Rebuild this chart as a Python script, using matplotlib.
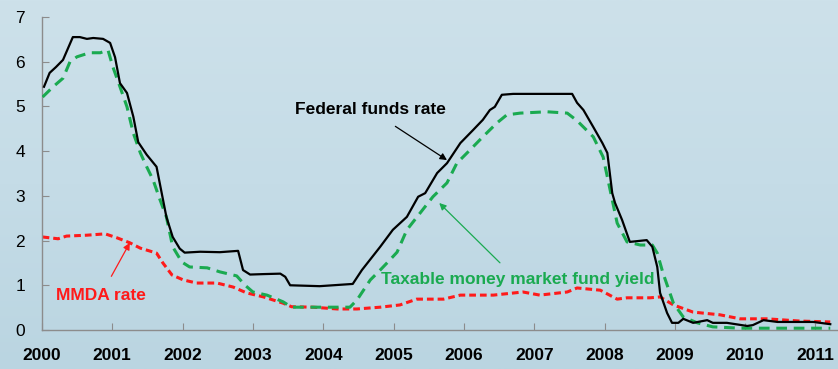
import numpy as np
import matplotlib
matplotlib.use("Agg")
import matplotlib.pyplot as plt

# Federal funds rate (black solid)
ff_year = [2000.03, 2000.11, 2000.2, 2000.3, 2000.44, 2000.54, 2000.64, 2000.73, 2000.87, 2000.97,
           2001.04, 2001.11, 2001.21, 2001.3, 2001.37, 2001.49, 2001.63, 2001.77, 2001.86, 2001.96,
           2002.03, 2002.25, 2002.53, 2002.79, 2002.86, 2002.96, 2003.15, 2003.39, 2003.46, 2003.53,
           2003.95, 2004.42, 2004.55, 2004.81, 2004.99, 2005.19, 2005.35, 2005.45, 2005.62, 2005.76,
           2005.95, 2006.13, 2006.27, 2006.37, 2006.44, 2006.54, 2006.70, 2007.18, 2007.54, 2007.61,
           2007.7, 2007.84, 2007.97, 2008.04, 2008.11, 2008.15, 2008.25, 2008.36, 2008.6, 2008.68,
           2008.75, 2008.79, 2008.89, 2008.96, 2009.05, 2009.12, 2009.26, 2009.46, 2009.54, 2009.74,
           2010.03, 2010.11, 2010.26, 2010.46, 2010.97, 2011.21]
ff_rate = [5.44, 5.75, 5.88, 6.04, 6.55, 6.55, 6.51, 6.53, 6.51, 6.42,
           6.1, 5.52, 5.3, 4.77, 4.2, 3.92, 3.65, 2.53, 2.08, 1.82,
           1.73, 1.75, 1.74, 1.77, 1.34, 1.24, 1.25, 1.26, 1.19, 1.0,
           0.98, 1.03, 1.34, 1.86, 2.24, 2.53, 2.98, 3.06, 3.51, 3.73,
           4.18, 4.47, 4.7, 4.92, 4.99, 5.26, 5.28, 5.28, 5.28, 5.08,
           4.92, 4.54, 4.18, 3.96, 3.06, 2.84, 2.46, 1.97, 2.01, 1.86,
           1.41, 0.83, 0.38, 0.16, 0.16, 0.25, 0.16, 0.22, 0.16, 0.16,
           0.09, 0.11, 0.22, 0.18, 0.18, 0.13]

# Taxable money market fund yield (green dashed)
mmf_year = [2000.01, 2000.16, 2000.3, 2000.4, 2000.5, 2000.68, 2000.83, 2000.94, 2001.01, 2001.11,
            2001.21, 2001.3, 2001.4, 2001.49, 2001.58, 2001.68, 2001.77, 2001.86, 2001.99, 2002.1,
            2002.35, 2002.53, 2002.77, 2002.89, 2003.0, 2003.2, 2003.43, 2003.55, 2003.95, 2004.38,
            2004.48, 2004.67, 2004.81, 2004.95, 2005.05, 2005.19, 2005.38, 2005.56, 2005.76, 2005.9,
            2006.09, 2006.27, 2006.47, 2006.61, 2006.8, 2007.18, 2007.47, 2007.61, 2007.84, 2007.98,
            2008.08, 2008.18, 2008.32, 2008.51, 2008.68, 2008.75, 2008.83, 2008.98, 2009.12, 2009.32,
            2009.54, 2009.93, 2010.68, 2011.21]
mmf_yield = [5.21, 5.44, 5.63, 6.0, 6.11, 6.2, 6.2, 6.26, 5.88, 5.44,
             4.99, 4.4, 3.96, 3.65, 3.36, 2.91, 2.53, 1.86, 1.52, 1.41,
             1.39, 1.3, 1.21, 1.0, 0.85, 0.78, 0.63, 0.51, 0.51, 0.51,
             0.67, 1.12, 1.34, 1.57, 1.74, 2.24, 2.62, 2.98, 3.29, 3.73,
             4.03, 4.32, 4.63, 4.81, 4.85, 4.88, 4.85, 4.68, 4.32, 3.87,
             3.13, 2.39, 1.97, 1.9, 1.9, 1.72, 1.28, 0.6, 0.29, 0.16,
             0.07, 0.04, 0.04, 0.04]

# MMDA rate (red dashed)
mmda_year = [2000.01, 2000.23, 2000.35, 2000.64, 2000.9, 2001.07, 2001.25, 2001.4, 2001.63, 2001.72,
             2001.85, 2002.01, 2002.2, 2002.49, 2002.72, 2002.91, 2003.15, 2003.43, 2003.55, 2003.86,
             2004.2, 2004.48, 2004.81, 2005.09, 2005.33, 2005.71, 2005.95, 2006.42, 2006.84, 2007.08,
             2007.47, 2007.61, 2007.94, 2008.18, 2008.32, 2008.65, 2008.79, 2008.98, 2009.26, 2009.64,
             2009.93, 2010.31, 2010.78, 2011.21]
mmda_rate = [2.08, 2.04, 2.1, 2.12, 2.15, 2.06, 1.95, 1.83, 1.72, 1.5,
             1.23, 1.12, 1.05, 1.05, 0.96, 0.83, 0.74, 0.6, 0.52, 0.51,
             0.47, 0.47, 0.51, 0.56, 0.69, 0.69, 0.78, 0.78, 0.85, 0.78,
             0.85, 0.94, 0.89, 0.69, 0.72, 0.72, 0.74, 0.56, 0.4, 0.34,
             0.25, 0.25, 0.2, 0.18]

years = list(range(2000, 2012))
yticks = list(range(0, 8))

plt.rcParams['font.family'] = ['Liberation Sans', 'DejaVu Sans']

fig = plt.figure(figsize=(8.38, 3.69), dpi=100)

# background gradient
bg = fig.add_axes([0, 0, 1, 1], zorder=-10)
grad = np.linspace(0, 1, 256).reshape(-1, 1)
cmap = matplotlib.colors.LinearSegmentedColormap.from_list('bg', ['#cde1ea', '#c5dce7', '#bad5e1'])
bg.imshow(grad, aspect='auto', cmap=cmap, extent=[0, 1, 0, 1])
bg.axis('off')

ax = fig.add_axes([0.050, 0.1057, 0.950, 0.8483])
ax.patch.set_alpha(0)

ax.plot(mmda_year, mmda_rate, color='#ff1a1a', lw=2.2, dashes=(2.2, 1.3), zorder=2)
ax.plot(mmf_year, mmf_yield, color='#1aaa50', lw=2.2, dashes=(3.5, 2.2), zorder=3)
ax.plot(ff_year, ff_rate, color='black', lw=1.6, zorder=4)

ax.set_xlim(2000, 2011.32)
ax.set_ylim(0, 7)
ax.set_xticks(years)
ax.set_xticklabels([str(y) for y in years], fontsize=12.5, fontweight='bold')
ax.set_yticks(yticks)
ax.set_yticklabels([str(v) for v in yticks], fontsize=12.5)

for s in ['top', 'right']:
    ax.spines[s].set_visible(False)
for s in ['left', 'bottom']:
    ax.spines[s].set_color('#8c8c8c')
    ax.spines[s].set_linewidth(1.0)
ax.tick_params(axis='x', direction='in', length=5, color='#8c8c8c', pad=13)
ax.tick_params(axis='y', direction='in', length=5, color='#8c8c8c', pad=12)

ax.annotate('Federal funds rate', xy=(2005.76, 3.8), xytext=(2004.67, 4.92),
            fontsize=12.5, fontweight='bold', color='black', ha='center', va='center',
            arrowprops=dict(arrowstyle='-|>', color='black', lw=0.9,
                            shrinkA=8, shrinkB=0, mutation_scale=10))
ax.annotate('Taxable money market fund yield', xy=(2005.65, 2.84), xytext=(2006.76, 1.12),
            fontsize=12.5, fontweight='bold', color='#1aaa50', ha='center', va='center',
            arrowprops=dict(arrowstyle='-|>', color='#1aaa50', lw=0.9,
                            shrinkA=7, shrinkB=0, mutation_scale=10))
ax.annotate('MMDA rate', xy=(2001.25, 1.95), xytext=(2000.84, 0.78),
            fontsize=12.5, fontweight='bold', color='#ff1a1a', ha='center', va='center',
            arrowprops=dict(arrowstyle='-|>', color='#ff1a1a', lw=0.9,
                            shrinkA=7, shrinkB=0, mutation_scale=10))

fig.savefig('out.png', dpi=100)
